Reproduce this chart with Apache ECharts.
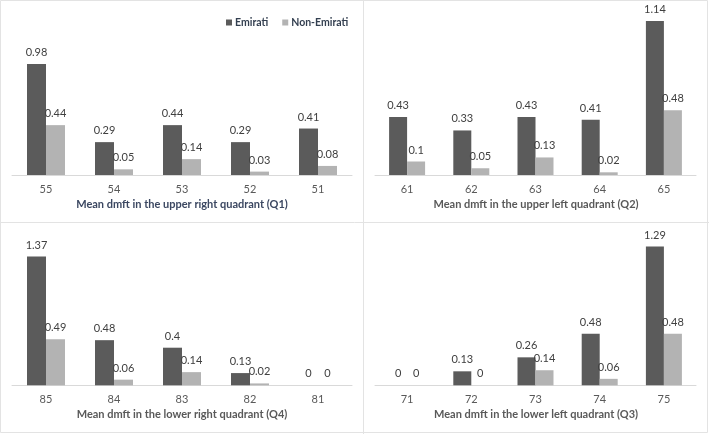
<!DOCTYPE html>
<html><head><meta charset="utf-8">
<script src="https://cdn.jsdelivr.net/npm/echarts@6/dist/echarts.min.js"></script>
<style>html,body{margin:0;padding:0;background:#fff}#c{width:709px;height:434px}</style>
</head><body><div id="c"></div>
<script>
const seriesNames = ['Emirati', 'Non-Emirati'];
const q1Teeth = ['55', '54', '53', '52', '51'];
const q1Emirati = [0.98, 0.29, 0.44, 0.29, 0.41];
const q1NonEmirati = [0.44, 0.05, 0.14, 0.03, 0.08];
const q2Teeth = ['61', '62', '63', '64', '65'];
const q2Emirati = [0.43, 0.33, 0.43, 0.41, 1.14];
const q2NonEmirati = [0.1, 0.05, 0.13, 0.02, 0.48];
const q4Teeth = ['85', '84', '83', '82', '81'];
const q4Emirati = [1.37, 0.48, 0.4, 0.13, 0];
const q4NonEmirati = [0.49, 0.06, 0.14, 0.02, 0];
const q3Teeth = ['71', '72', '73', '74', '75'];
const q3Emirati = [0, 0.13, 0.26, 0.48, 1.29];
const q3NonEmirati = [0, 0, 0.14, 0.06, 0.48];
const titles = [
  'Mean dmft in the upper right quadrant (Q1)',
  'Mean dmft in the upper left quadrant (Q2)',
  'Mean dmft in the lower right quadrant (Q4)',
  'Mean dmft in the lower left quadrant (Q3)'
];

const FONT = 'Lato, "Open Sans", sans-serif';
const panels = [
  {cats: q1Teeth, e: q1Emirati, n: q1NonEmirati, grid: {left: 12, width: 340, top: 39, height: 136}, max: 1.2, bw: 19, titleColor: '#3b4761', titleY: 204, cx: 182},
  {cats: q2Teeth, e: q2Emirati, n: q2NonEmirati, grid: {left: 375, width: 321, top: 13, height: 162}, max: 1.2, bw: 18, titleColor: '#595959', titleY: 204, cx: 536},
  {cats: q4Teeth, e: q4Emirati, n: q4NonEmirati, grid: {left: 12, width: 340, top: 244.3, height: 141}, max: 1.5, bw: 19, titleColor: '#595959', titleY: 414, cx: 182},
  {cats: q3Teeth, e: q3Emirati, n: q3NonEmirati, grid: {left: 375, width: 321, top: 234.7, height: 150.6}, max: 1.4, bw: 18, titleColor: '#595959', titleY: 414, cx: 536}
];
const colors = ['#5b5b5b', '#b3b3b3'];
const grid = [], xAxis = [], yAxis = [], series = [], graphic = [];
panels.forEach((p, i) => {
  grid.push(Object.assign({}, p.grid));
  xAxis.push({type: 'category', gridIndex: i, data: p.cats,
    axisLine: {lineStyle: {color: '#d9d9d9', width: 1}}, axisTick: {show: false},
    axisLabel: {color: '#595959', fontSize: 11, fontFamily: FONT, margin: 9}});
  yAxis.push({type: 'value', gridIndex: i, min: 0, max: p.max, show: false, splitLine: {show: false}});
  [p.e, p.n].forEach((d, k) => {
    series.push({name: seriesNames[k], type: 'bar', xAxisIndex: i, yAxisIndex: i, data: d,
      barWidth: p.bw, barGap: '0%', itemStyle: {color: colors[k]},
      label: {show: true, position: 'top', color: '#404040', fontSize: 11, fontFamily: FONT, distance: 6},
      animation: false});
  });
  graphic.push({type: 'text', x: p.cx, y: p.titleY, silent: true,
    style: {text: titles[i], fill: p.titleColor, fontWeight: 'bold', fontSize: 11, fontFamily: FONT, align: 'center', verticalAlign: 'middle'}});
});
const borderStyle = {stroke: '#e3e3e3', lineWidth: 1};
graphic.push(
  {type: 'rect', shape: {x: 0.5, y: 0.5, width: 707, height: 432}, style: {fill: 'none', stroke: '#e3e3e3', lineWidth: 1}, silent: true},
  {type: 'line', shape: {x1: 363.5, y1: 0, x2: 363.5, y2: 434}, style: borderStyle, silent: true},
  {type: 'line', shape: {x1: 0, y1: 222.5, x2: 709, y2: 222.5}, style: borderStyle, silent: true}
);

const chart = echarts.init(document.getElementById('c'), null, {renderer: 'canvas'});
chart.setOption({
  animation: false,
  legend: {data: seriesNames, top: 12, left: 221, itemWidth: 6, itemHeight: 6, itemGap: 14, icon: 'rect',
    textStyle: {color: '#333f50', fontWeight: 'bold', fontSize: 10.5, fontFamily: FONT, padding: [0, 0, 0, -2]}},
  grid, xAxis, yAxis, series, graphic
});
</script></body></html>
